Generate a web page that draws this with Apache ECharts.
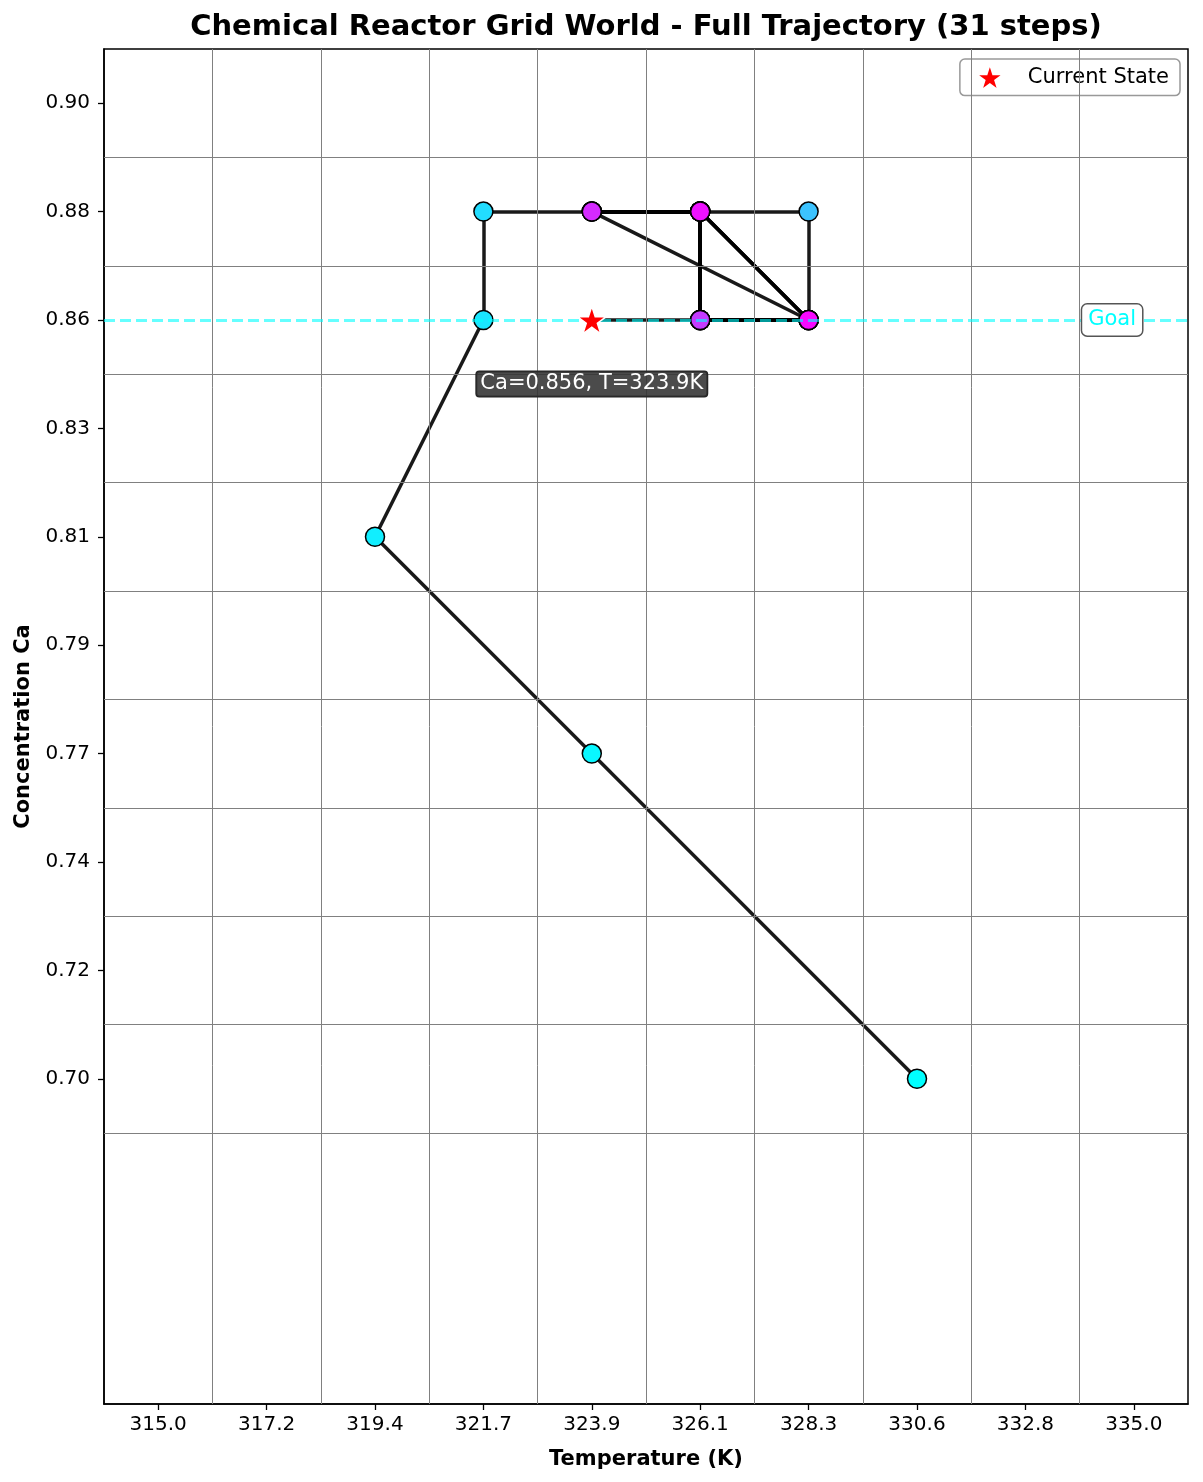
<!DOCTYPE html>
<html><head><meta charset="utf-8">
<script src="https://cdn.jsdelivr.net/npm/echarts@6/dist/echarts.min.js"></script>
<style>html,body{margin:0;padding:0;background:#fff}#chart{width:1203px;height:1482px}</style>
</head><body><div id="chart"></div>
<script>
// Grid cell values
const tempValues = [315.0, 317.2, 319.4, 321.7, 323.9, 326.1, 328.3, 330.6, 332.8, 335.0];
const caValues = [0.900, 0.878, 0.856, 0.833, 0.811, 0.789, 0.767, 0.744, 0.722, 0.700];
// Trajectory (cell indices), 31 states
const trajTempIdx = [7,4,2,3,3,4,5,6,6,5,5,4,5,5,6,5,6,5,5,5,4,5,5,5,5,4,6,6,5,6,4];
const trajCaIdx   = [9,6,4,2,1,1,1,1,2,2,1,1,1,2,2,2,2,1,2,1,1,1,2,2,1,1,2,2,1,2,2];
const goalCaIdx = 2;
const titleText = 'Chemical Reactor Grid World - Full Trajectory (31 steps)';

const FONT = 'DejaVu Sans';
const STAR = 'path://M50,0 L61.2,34.5 L97.6,34.5 L68.2,55.9 L79.4,90.5 L50,69.1 L20.6,90.5 L31.8,55.9 L2.4,34.5 L38.8,34.5 Z';
const n = trajTempIdx.length;
const cur = n - 1;
function cool(t) {
  return 'rgb(' + Math.round(255 * t) + ',' + Math.round(255 * (1 - t)) + ',255)';
}
const cellIdx = tempValues.map((_, i) => i);
const rowIdx = caValues.map((_, i) => i);

const segs = [];
for (let i = 0; i < n - 1; i++) {
  segs.push({ coords: [[trajTempIdx[i], trajCaIdx[i]], [trajTempIdx[i + 1], trajCaIdx[i + 1]]] });
}
const pts = [];
for (let i = 0; i < n - 1; i++) {
  pts.push({ value: [trajTempIdx[i], trajCaIdx[i]], itemStyle: { color: cool(i / (n - 1)) } });
}
const gridLines = [];
for (let k = 0; k < tempValues.length - 1; k++) gridLines.push({ xAxis: k + 0.5 });
for (let k = 0; k < caValues.length; k++) gridLines.push({ yAxis: k + 0.5 });

const chart = echarts.init(document.getElementById('chart'), null, { renderer: 'canvas' });
chart.setOption({
  animation: false,
  backgroundColor: '#fff',
  textStyle: { fontFamily: FONT },
  title: {
    text: titleText, left: 646, top: 13, textAlign: 'center', padding: 0,
    textStyle: { fontFamily: FONT, fontSize: 29, fontWeight: 'bold', color: '#000' }
  },
  legend: {
    right: 23, top: 59, orient: 'vertical',
    data: [{ name: 'Current State', icon: STAR }],
    itemWidth: 28, itemHeight: 28,
    padding: [4, 11, 4, 15],
    borderColor: '#999', borderWidth: 1.5, borderRadius: 5,
    backgroundColor: 'rgba(255,255,255,0.85)',
    textStyle: { fontFamily: FONT, fontSize: 21, color: '#000', padding: [0, 0, 0, 19] }
  },
  grid: { left: 104, right: 15, top: 49, bottom: 78, show: true, borderColor: '#000', borderWidth: 1.5, backgroundColor: 'transparent' },
  xAxis: {
    type: 'value', min: -0.5, max: 9.5,
    name: 'Temperature (K)', nameLocation: 'middle', nameGap: 45,
    nameTextStyle: { fontFamily: FONT, fontSize: 21, fontWeight: 'bold', color: '#000' },
    axisLine: { show: true, onZero: false, lineStyle: { color: '#000', width: 1.5 } },
    axisTick: { show: true, customValues: cellIdx, length: 6, lineStyle: { color: '#000', width: 1.3 } },
    axisLabel: { customValues: cellIdx, margin: 11, fontFamily: FONT, fontSize: 20, color: '#000',
      formatter: v => tempValues[Math.round(v)].toFixed(1) },
    splitLine: { show: false }
  },
  yAxis: {
    type: 'value', min: -0.5, max: 12, inverse: true,
    name: 'Concentration Ca', nameLocation: 'middle', nameGap: 70, nameRotate: 90,
    nameTextStyle: { fontFamily: FONT, fontSize: 21, fontWeight: 'bold', color: '#000' },
    axisLine: { show: true, onZero: false, lineStyle: { color: '#000', width: 1.5 } },
    axisTick: { show: true, customValues: rowIdx, length: 6, lineStyle: { color: '#000', width: 1.3 } },
    axisLabel: { customValues: rowIdx, margin: 14, fontFamily: FONT, fontSize: 20, color: '#000',
      formatter: v => caValues[Math.round(v)].toFixed(2) },
    splitLine: { show: false }
  },
  series: [
    {
      name: 'grid', type: 'scatter', data: [], z: 1, silent: true,
      markLine: {
        silent: true, symbol: ['none', 'none'], animation: false,
        label: { show: false },
        lineStyle: { color: '#808080', width: 1, type: 'solid' },
        emphasis: { disabled: true },
        data: gridLines
      }
    },
    {
      name: 'goal', type: 'scatter', data: [], z: 2, silent: true,
      markLine: {
        silent: true, symbol: ['none', 'none'], animation: false,
        label: { show: false },
        lineStyle: { color: 'rgba(0,255,255,0.6)', width: 3, type: [11, 5] },
        emphasis: { disabled: true },
        data: [{ yAxis: goalCaIdx }]
      },
      markPoint: {
        symbol: 'circle', symbolSize: 0, silent: true, animation: false,
        data: [{ coord: [8.8, goalCaIdx] }],
        label: {
          show: true, position: 'inside', formatter: 'Goal',
          fontFamily: FONT, fontSize: 21, color: '#00ffff',
          backgroundColor: '#fff', borderColor: '#555', borderWidth: 1.5, borderRadius: 5,
          padding: [5, 6]
        }
      }
    },
    {
      name: 'path', type: 'lines', coordinateSystem: 'cartesian2d', z: 3, silent: true,
      lineStyle: { color: '#000', opacity: 0.9, width: 3.5 },
      data: segs
    },
    {
      name: 'states', type: 'scatter', z: 4, symbol: 'circle', symbolSize: 19, silent: true,
      itemStyle: { borderColor: '#000', borderWidth: 1.5, opacity: 1 },
      data: pts
    },
    {
      name: 'Current State', type: 'scatter', z: 5, symbol: STAR, symbolSize: 29, symbolKeepAspect: true,
      itemStyle: { color: '#ff0000', borderColor: '#fff', borderWidth: 1.5, opacity: 1 },
      data: [[trajTempIdx[cur], trajCaIdx[cur]]],
      label: {
        show: true, position: 'inside', offset: [0, 64],
        formatter: 'Ca=' + caValues[trajCaIdx[cur]].toFixed(3) + ', T=' + tempValues[trajTempIdx[cur]].toFixed(1) + 'K',
        fontFamily: FONT, fontSize: 21, color: '#fff',
        backgroundColor: 'rgba(50,50,50,0.88)', borderColor: '#222', borderWidth: 1, borderRadius: 3,
        padding: [2, 4]
      }
    }
  ]
});
</script>
</body></html>
